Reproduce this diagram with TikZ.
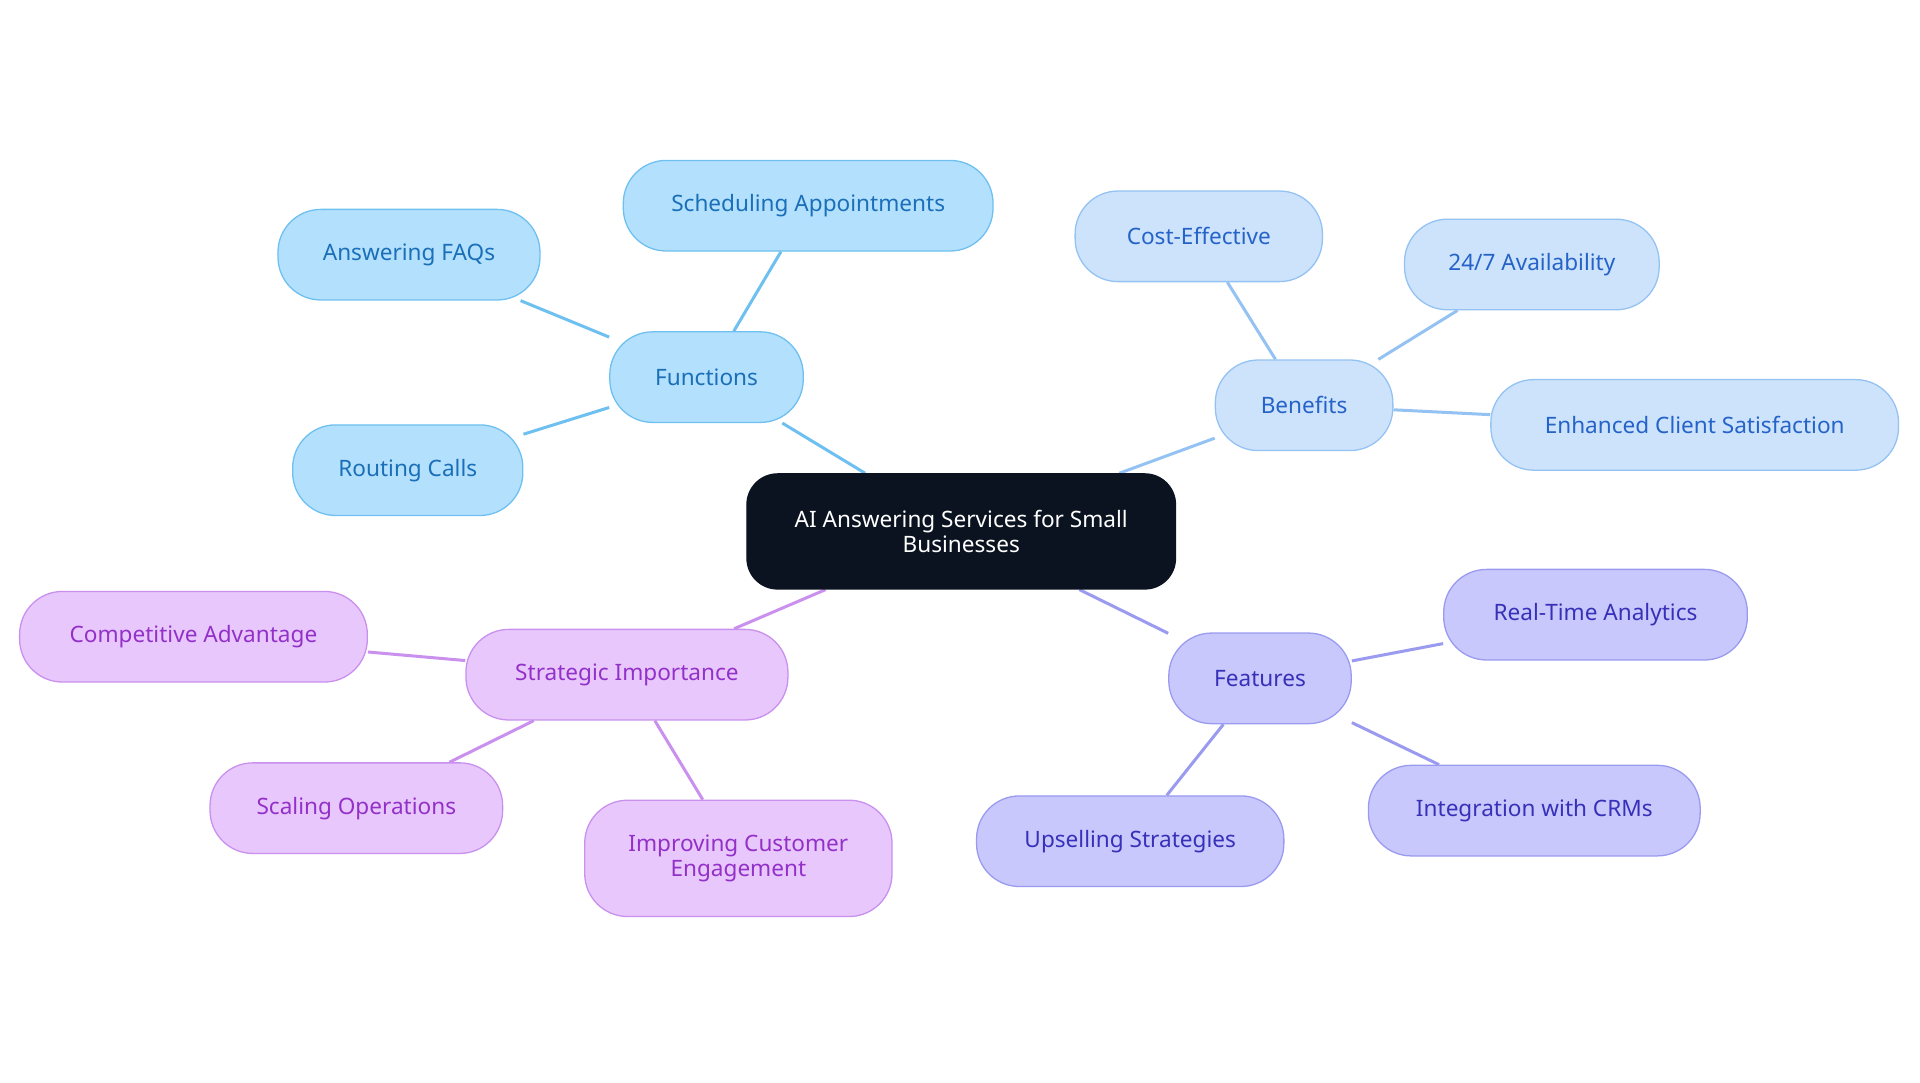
\documentclass[tikz,border=0pt]{standalone}
\usepackage{fontspec}
\setmainfont{Noto Sans}
\usetikzlibrary{backgrounds}
\definecolor{rootfill}{HTML}{0B1320}
\definecolor{funfill}{HTML}{B3E0FD}\definecolor{fundraw}{HTML}{6EC0F0}\definecolor{funtext}{HTML}{1A6FB8}
\definecolor{benfill}{HTML}{CCE3FB}\definecolor{bendraw}{HTML}{94C2F2}\definecolor{bentext}{HTML}{2563C8}
\definecolor{feafill}{HTML}{C8C8FC}\definecolor{feadraw}{HTML}{9A9AF0}\definecolor{featext}{HTML}{3730B8}
\definecolor{strfill}{HTML}{E8C8FC}\definecolor{strdraw}{HTML}{C990EE}\definecolor{strtext}{HTML}{9330C8}

\begin{document}
\begin{tikzpicture}[x={(0.02cm,0)},y={(0,-0.02cm)},
  box/.style={rounded corners=0.7cm,draw,line width=0.6pt,minimum height=1.48cm,
    align=center,font=\fontsize{10.5}{12}\selectfont},
  fun/.style={box,fill=funfill,draw=fundraw,text=funtext},
  ben/.style={box,fill=benfill,draw=bendraw,text=bentext},
  fea/.style={box,fill=feafill,draw=feadraw,text=featext},
  str/.style={box,fill=strfill,draw=strdraw,text=strtext},
  link/.style={line width=1.4pt}]
\useasboundingbox (0,0) rectangle (1568,884);
\node[box,fill=rootfill,draw=rootfill,text=white,minimum width=7cm,minimum height=1.88cm,rounded corners=0.5cm] (root) at (785,434) {AI Answering Services for Small\\Businesses};
% functions
\node[fun,minimum width=3.16cm] (fun) at (577,308) {Functions};
\node[fun,minimum width=6.04cm] (sched) at (660,168) {Scheduling Appointments};
\node[fun,minimum width=4.28cm] (faq) at (334,208) {Answering FAQs};
\node[fun,minimum width=3.76cm] (route) at (333,384) {Routing Calls};
% benefits
\node[ben,minimum width=2.9cm] (ben) at (1065,331) {Benefits};
\node[ben,minimum width=4.04cm] (cost) at (979,193) {Cost-Effective};
\node[ben,minimum width=4.16cm] (avail) at (1251,216) {24/7 Availability};
\node[ben,minimum width=6.66cm] (satis) at (1384,347) {Enhanced Client Satisfaction};
% features
\node[fea,minimum width=2.98cm] (fea) at (1029,554) {Features};
\node[fea,minimum width=4.96cm] (anal) at (1303,502) {Real-Time Analytics};
\node[fea,minimum width=5.42cm] (crm) at (1253,662) {Integration with CRMs};
\node[fea,minimum width=5.02cm] (upsell) at (923,687) {Upselling Strategies};
% strategic importance
\node[str,minimum width=5.26cm] (str) at (512,551) {Strategic Importance};
\node[str,minimum width=5.68cm] (comp) at (158,520) {Competitive Advantage};
\node[str,minimum width=4.78cm] (scale) at (291,660) {Scaling Operations};
\node[str,minimum width=5.02cm,minimum height=1.9cm] (engage) at (603,701) {Improving Customer\\Engagement};
\begin{scope}[on background layer]
\draw[link,fundraw] (root) -- (fun) (fun) -- (sched) (fun) -- (faq) (fun) -- (route);
\draw[link,bendraw] (root) -- (ben) (ben) -- (cost) (ben) -- (avail) (ben) -- (satis);
\draw[link,feadraw] (root) -- (fea) (fea) -- (anal) (fea) -- (crm) (fea) -- (upsell);
\draw[link,strdraw] (root) -- (str) (str) -- (comp) (str) -- (scale) (str) -- (engage);
\end{scope}
\end{tikzpicture}
\end{document}
